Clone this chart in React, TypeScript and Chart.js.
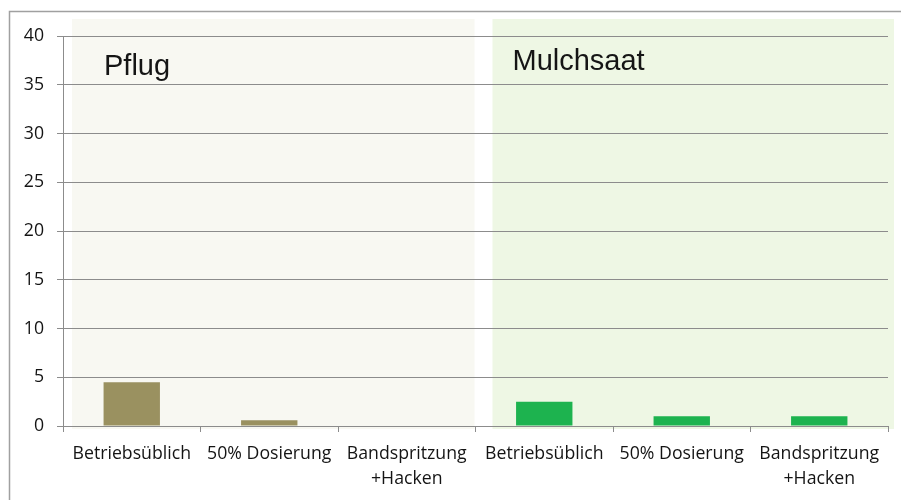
import React, { useEffect, useRef } from "react";
import { Chart, registerables } from "chart.js";

Chart.register(...registerables);

const groups = ["Pflug", "Mulchsaat"];
const categories: (string | string[])[] = [
  "Betriebsüblich",
  "50% Dosierung",
  ["Bandspritzung", "+Hacken"],
];
const pflugValues = [4.5, 0.6, 0];
const mulchValues = [2.5, 1.0, 1.0];
const groupColors = ["#9a9160", "#1db34f"];
const panelColors = ["#f8f8f2", "#eef7e4"];
const yTicks = [0, 5, 10, 15, 20, 25, 30, 35, 40];

const labels = [...categories, ...categories];
const values = [...pflugValues, ...mulchValues];
const barColors = [
  ...pflugValues.map(() => groupColors[0]),
  ...mulchValues.map(() => groupColors[1]),
];

const decorPlugin = {
  id: "decor",
  beforeDraw(chart: any) {
    const { ctx, chartArea, scales } = chart;
    const x = scales.x;
    const n = categories.length;
    const boundary = (x.getPixelForValue(n - 1) + x.getPixelForValue(n)) / 2;
    ctx.save();
    // outer frame
    ctx.strokeStyle = "#a0a0a0";
    ctx.lineWidth = 1.5;
    ctx.beginPath();
    ctx.moveTo(9.5, chart.height + 5);
    ctx.lineTo(9.5, 11.5);
    ctx.lineTo(chart.width + 5, 11.5);
    ctx.stroke();
    // panels
    const top = chartArea.top - 17;
    const bottom = chartArea.bottom + 3;
    ctx.fillStyle = panelColors[0];
    ctx.fillRect(chartArea.left + 9, top, boundary - 1 - (chartArea.left + 9), bottom - top);
    ctx.fillStyle = panelColors[1];
    ctx.fillRect(boundary + 17, top, chartArea.right + 6 - (boundary + 17), bottom - top);
    ctx.restore();
  },
  afterDatasetsDraw(chart: any) {
    const { ctx, chartArea, scales } = chart;
    const x = scales.x;
    const n = categories.length;
    const boundary = (x.getPixelForValue(n - 1) + x.getPixelForValue(n)) / 2;
    ctx.save();
    ctx.fillStyle = "#151515";
    ctx.font = "29px 'Liberation Sans', Arial, sans-serif";
    ctx.textBaseline = "alphabetic";
    ctx.textAlign = "left";
    ctx.fillText(groups[0], chartArea.left + 41, chartArea.top + 39);
    ctx.fillText(groups[1], boundary + 37, chartArea.top + 34);
    ctx.restore();
  },
};

export default function App() {
  const ref = useRef<HTMLCanvasElement | null>(null);
  useEffect(() => {
    document.body.style.margin = "0";
    if (!ref.current) return;
    const chart = new Chart(ref.current, {
      type: "bar",
      data: {
        labels,
        datasets: [
          {
            data: values,
            backgroundColor: barColors,
            borderWidth: 0,
            barPercentage: 0.41,
            categoryPercentage: 1,
          },
        ],
      },
      options: {
        responsive: false,
        animation: false,
        layout: { padding: { top: 36, right: 13, left: 0, bottom: 0 } },
        plugins: { legend: { display: false }, tooltip: { enabled: false } },
        scales: {
          x: {
            offset: true,
            grid: {
              offset: true,
              drawOnChartArea: false,
              drawTicks: true,
              tickLength: 6,
              color: "#8c8c8c",
            },
            border: { color: "#8c8c8c", width: 1 },
            ticks: {
              color: "#141414",
              font: { family: "'Open Sans', sans-serif", size: 17.7, lineHeight: "25px" },
              padding: 9,
              maxRotation: 0,
              autoSkip: false,
            },
            afterFit(scale: any) {
              scale.height = 74;
            },
          },
          y: {
            min: 0,
            max: 40,
            afterBuildTicks(scale: any) {
              scale.ticks = yTicks.map((v) => ({ value: v }));
            },
            grid: {
              color: "#8c8c8c",
              lineWidth: 1,
              tickLength: 6,
            },
            border: { color: "#8c8c8c", width: 1 },
            ticks: {
              color: "#141414",
              font: { family: "'Open Sans', sans-serif", size: 17.7 },
              padding: 13,
            },
            afterFit(scale: any) {
              scale.width = 63;
            },
          },
        },
      },
      plugins: [decorPlugin],
    });
    return () => chart.destroy();
  }, []);
  return (
    <div style={{ position: "absolute", left: 0, top: 0, width: 901, height: 500, background: "#fff" }}>
      <canvas ref={ref} width={901} height={500} style={{ display: "block" }} />
    </div>
  );
}
